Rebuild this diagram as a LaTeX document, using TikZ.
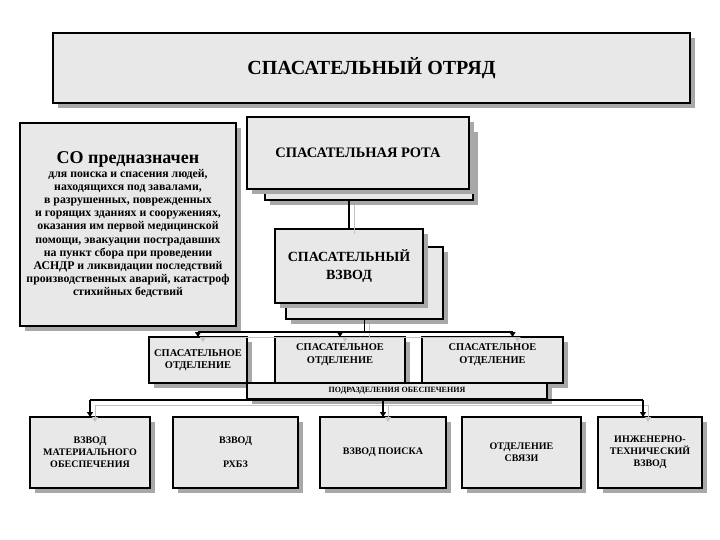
\documentclass[tikz,border=0pt]{standalone}
\usepackage{fontspec}
\setmainfont{Liberation Serif}
\usetikzlibrary{shadows,arrows.meta,calc}

\definecolor{boxgray}{HTML}{E8E8E8}
\definecolor{shadegray}{HTML}{A8A8A8}

\begin{document}
\begin{tikzpicture}[
    x=1pt, y=-1pt,
    unit/.style={
      rectangle, draw, line width=1.3pt, fill=boxgray, anchor=north west,
      inner sep=1pt, outer sep=0pt, align=center, font=\bfseries,
      drop shadow={shadow xshift=5pt, shadow yshift=-5pt, fill=shadegray, opacity=1}
    },
    dims/.style 2 args={minimum width=#1pt, minimum height=#2pt},
    link/.style={line width=1.5pt,
      preaction={draw=shadegray!70, transform canvas={shift={(5pt,-5pt)}}}},
    feed/.style={link, -{Triangle[length=5pt, width=6pt]}}
  ]
  \useasboundingbox[fill=white] (0,0) rectangle (720,540);
  % upper levels
  \node[unit, dims={637}{70}, font=\bfseries\fontsize{20}{22}\selectfont] (otryad) at (53,33) {СПАСАТЕЛЬНЫЙ ОТРЯД};
  \node[unit, dims={216}{203}, font=\bfseries\fontsize{11.8}{13.1}\selectfont] (naznach) at (20,123)
    {{\fontsize{18}{19}\selectfont СО предназначен}\\[1pt]
     для поиска и спасения людей,\\ находящихся под завалами,\\ в разрушенных, поврежденных\\
     и горящих зданиях и сооружениях,\\ оказания им первой медицинской\\ помощи, эвакуации пострадавших\\
     на пункт сбора при проведении\\ АСНДР и ликвидации последствий\\ производственных аварий, катастроф\\
     стихийных бедствий};
  \node[unit, dims={208}{73}] (rotaback) at (265,127) {};
  \node[unit, dims={222}{72}, font=\bfseries\fontsize{14.5}{16}\selectfont] (rota) at (247,117) {СПАСАТЕЛЬНАЯ РОТА};
  \node[unit, dims={157}{72}] (vzvodback) at (286,247) {};
  \node[unit, dims={148}{74}, font=\bfseries\fontsize{14}{18}\selectfont] (vzvod) at (275,229) {СПАСАТЕЛЬНЫЙ\\ ВЗВОД};
  % squads
  \node[unit, dims={98}{46}, font=\bfseries\fontsize{10.4}{12.5}\selectfont] (otd1) at (149,337) {СПАСАТЕЛЬНОЕ\\ ОТДЕЛЕНИЕ};
  \node[unit, dims={130}{46}, font=\bfseries\fontsize{10.4}{12.5}\selectfont] (otd2) at (275,337) {СПАСАТЕЛЬНОЕ\\ ОТДЕЛЕНИЕ\\ \mbox{}};
  \node[unit, dims={141}{46}, font=\bfseries\fontsize{10.4}{12.5}\selectfont] (otd3) at (422,337) {СПАСАТЕЛЬНОЕ\\ ОТДЕЛЕНИЕ\\ \mbox{}};
  \node[unit, dims={300}{16}, font=\bfseries\fontsize{8}{9}\selectfont] (obesp) at (247,383) {ПОДРАЗДЕЛЕНИЯ ОБЕСПЕЧЕНИЯ};
  % support units
  \node[unit, dims={120}{71}, font=\bfseries\fontsize{10}{12}\selectfont] (vz1) at (30,417) {ВЗВОД\\ МАТЕРИАЛЬНОГО\\ ОБЕСПЕЧЕНИЯ};
  \node[unit, dims={125}{71}, font=\bfseries\fontsize{10}{12}\selectfont] (vz2) at (173,417) {ВЗВОД\\[12pt] РХБЗ};
  \node[unit, dims={126}{71}, font=\bfseries\fontsize{10}{12}\selectfont] (vz3) at (320,417) {ВЗВОД ПОИСКА};
  \node[unit, dims={119}{71}, font=\bfseries\fontsize{10}{12}\selectfont] (vz4) at (462,417) {ОТДЕЛЕНИЕ\\ СВЯЗИ};
  \node[unit, dims={104}{71}, font=\bfseries\fontsize{10}{12}\selectfont] (vz5) at (598,417) {ИНЖЕНЕРНО-\\ ТЕХНИЧЕСКИЙ\\ ВЗВОД};
  % connectors
  \coordinate (bus1) at (0,332);
  \coordinate (bus2) at (0,400);
  \coordinate (tap3) at ([xshift=20pt]otd3.north);
  \coordinate (tap5) at ([xshift=-7pt]vz5.north);
  \draw[link] (vzvod.north |- rotaback.south) -- (vzvod.north);
  \draw[link] (vzvodback.south) -- (vzvodback.south |- bus1);
  \draw[link] (otd1.north |- bus1) -- (tap3 |- bus1);
  \foreach \t in {otd1,otd2}
    \draw[feed] (\t.north |- bus1) -- (\t.north);
  \draw[feed] (tap3 |- bus1) -- (tap3);
  \draw[link] (vz1.north |- bus2) -- (tap5 |- bus2);
  \foreach \t in {vz1,vz3}
    \draw[feed] (\t.north |- bus2) -- (\t.north);
  \draw[feed] (tap5 |- bus2) -- (tap5);
\end{tikzpicture}
\end{document}
